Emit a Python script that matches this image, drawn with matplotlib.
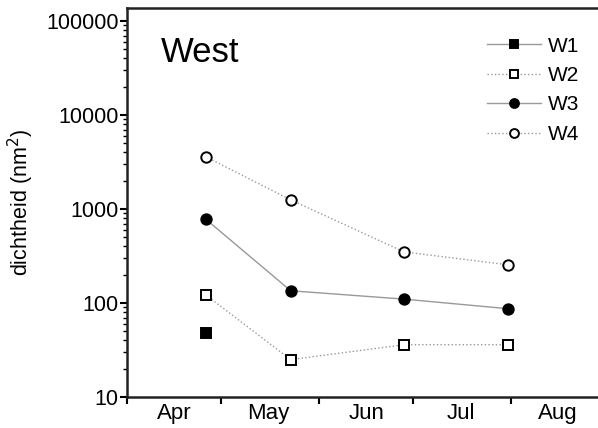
import matplotlib
matplotlib.use("Agg")
import matplotlib.pyplot as plt
import matplotlib.dates as mdates
import matplotlib.ticker as mticker
from datetime import date

plt.rcParams['font.family'] = ['Liberation Sans', 'DejaVu Sans']

# sampling dates
dates = [date(2009, 4, 26), date(2009, 5, 23), date(2009, 6, 28), date(2009, 7, 31)]

w1 = [48, None, None, None]
w2 = [122, 25, 36, 36]
w3 = [780, 135, 110, 87]
w4 = [3600, 1250, 350, 255]

series = [
    ("W1", w1, 's', 'black', '-'),
    ("W2", w2, 's', 'white', ':'),
    ("W3", w3, 'o', 'black', '-'),
    ("W4", w4, 'o', 'white', ':'),
]

fig = plt.figure(figsize=(5.98, 4.28), dpi=100)
ax = fig.add_axes([0.2124, 0.0724, 0.80, 0.9086])

for name, vals, mk, face, ls in series:
    xs = [d for d, v in zip(dates, vals) if v is not None]
    ys = [v for v in vals if v is not None]
    ax.plot(xs, ys, linestyle=ls, color='#999999', linewidth=1.0,
            marker=mk, markersize=7.5, markerfacecolor=face,
            markeredgecolor='black', markeredgewidth=1.4, label=name)

ax.set_yscale('log')
ax.set_ylim(10, 1.37e5)
ax.set_xlim(date(2009, 4, 1), date(2009, 8, 31))

ax.yaxis.set_major_locator(mticker.LogLocator(base=10, numticks=10))
ax.yaxis.set_major_formatter(mticker.FuncFormatter(lambda v, p: f"{int(round(v))}"))
ax.yaxis.set_minor_locator(mticker.LogLocator(base=10, subs=range(2, 10), numticks=20))
ax.yaxis.set_minor_formatter(mticker.NullFormatter())

ax.xaxis.set_major_locator(mdates.MonthLocator())
ax.xaxis.set_major_formatter(mticker.NullFormatter())
ax.xaxis.set_minor_locator(mdates.MonthLocator(bymonthday=16))
ax.xaxis.set_minor_formatter(mdates.DateFormatter('%b'))

ax.tick_params(axis='y', which='major', direction='out', length=5, width=1.5, labelsize=15.5, pad=1)
ax.tick_params(axis='y', which='minor', direction='out', length=3, width=1.0)
ax.tick_params(axis='x', which='major', direction='out', length=5, width=1.5)
ax.tick_params(axis='x', which='minor', length=0, labelsize=16, pad=4)

for s in ['left', 'bottom', 'top']:
    ax.spines[s].set_linewidth(1.8)
    ax.spines[s].set_color('#222222')
ax.spines['right'].set_visible(False)

ax.set_ylabel('dichtheid (nm$^{2}$)', fontsize=15.5)
ax.yaxis.set_label_coords(-0.19, 0.5)

ax.text(0.07, 0.885, 'West', transform=ax.transAxes, fontsize=25, va='center', ha='left')

leg = ax.legend(loc='upper right', bbox_to_anchor=(0.985, 0.975), frameon=False, fontsize=15,
                numpoints=1, handlelength=2.6, handletextpad=0.35, labelspacing=0.5,
                markerscale=0.85)
for ln in leg.get_lines():
    ln.set_clip_on(False)

fig.savefig('out.png', dpi=100)
